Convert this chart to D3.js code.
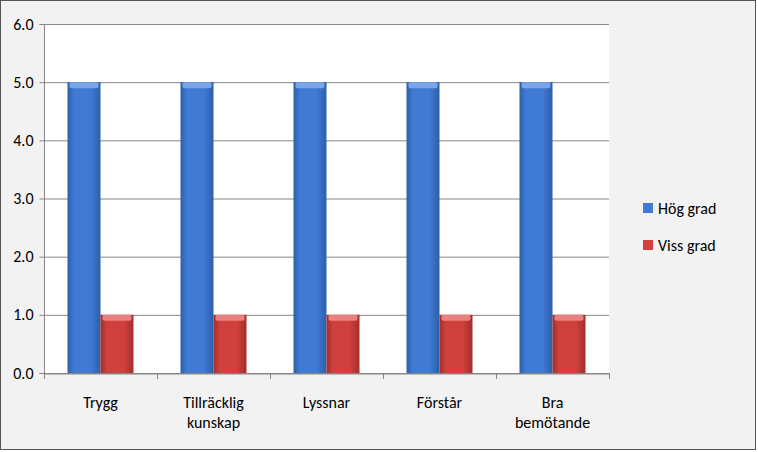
<!DOCTYPE html>
<html><head><meta charset="utf-8">
<script src="https://cdn.jsdelivr.net/npm/d3@7"></script>
<style>body{margin:0;background:#fff}</style>
</head><body>
<svg id="c" width="758" height="452"></svg>
<script>
var categories = [["Trygg"], ["Tillräcklig", "kunskap"], ["Lyssnar"], ["Förstår"], ["Bra", "bemötande"]];
var seriesNames = ["Hög grad", "Viss grad"];
var hogGrad = [5, 5, 5, 5, 5];
var vissGrad = [1, 1, 1, 1, 1];
var yTicks = [0, 1, 2, 3, 4, 5, 6];

var svg = d3.select("#c");
var defs = svg.append("defs");
function grad(id, light, mid, dark) {
	var g = defs.append("linearGradient").attr("id", id);
	g.append("stop").attr("offset", "0%").attr("stop-color", dark);
	g.append("stop").attr("offset", "20%").attr("stop-color", mid);
	g.append("stop").attr("offset", "70%").attr("stop-color", mid);
	g.append("stop").attr("offset", "100%").attr("stop-color", dark);
}
grad("gb", "#6f9be0", "#3f7bd4", "#2e5ea8");
grad("gr", "#e26b68", "#d0413e", "#a32e2b");
var fills = ["url(#gb)", "url(#gr)"];
var tops = ["#7aa6e8", "#e88280"];
var legendCol = ["#3f7bd4", "#d0413e"];

svg.append("rect").attr("x", 0.5).attr("y", 0.5).attr("width", 755).attr("height", 449)
	.attr("fill", "#f2f2f2").attr("stroke", "#555").attr("stroke-width", 1);

var x = d3.scaleBand().domain(d3.range(categories.length)).range([44, 609]);
var y = d3.scaleLinear().domain([0, 6]).range([373, 24]);

svg.append("rect").attr("x", 44).attr("y", 24).attr("width", 565).attr("height", 349).attr("fill", "#fff");

svg.selectAll(".grid").data(yTicks).enter().append("line")
	.attr("x1", 44).attr("x2", 609)
	.attr("y1", function(d) { return y(d) + 0.5; }).attr("y2", function(d) { return y(d) + 0.5; })
	.attr("stroke", "#868686");

var yAxis = svg.append("g").attr("transform", "translate(44.5,0)")
	.call(d3.axisLeft(y).tickValues(yTicks).tickSize(5).tickPadding(6));
var xAxis = svg.append("g").attr("transform", "translate(0,373.5)")
	.call(d3.axisBottom(x).tickValues([]).tickSizeOuter(0));
[yAxis, xAxis].forEach(function(a) {
	a.select(".domain").attr("stroke", "#868686");
	a.selectAll("line").attr("stroke", "#868686");
	a.selectAll("text").attr("font-family", "Calibri, Carlito, 'Liberation Sans', sans-serif").attr("font-size", 16).attr("fill", "#000");
});
yAxis.select(".domain").attr("d", "M-5,24.5H0V373.5H-5");
svg.selectAll(".xt").data(d3.range(categories.length + 1)).enter().append("line")
	.attr("x1", function(d) { return Math.round(44 + d * x.step()) + 0.5; })
	.attr("x2", function(d) { return Math.round(44 + d * x.step()) + 0.5; })
	.attr("y1", 373).attr("y2", 379).attr("stroke", "#868686");

var bw = 33;
[hogGrad, vissGrad].forEach(function(vals, s) {
	var g = svg.append("g");
	vals.forEach(function(v, i) {
		var bx = x(i) + x.bandwidth() / 2 - bw + s * bw;
		g.append("rect").attr("x", bx).attr("y", y(v)).attr("width", bw).attr("height", y(0) - y(v)).attr("fill", fills[s]);
		g.append("rect").attr("x", bx + 2).attr("y", y(v)).attr("width", bw - 4).attr("height", 6).attr("rx", 2).attr("fill", tops[s]);
	});
});

svg.selectAll(".cat").data(categories).enter().append("text")
	.attr("x", function(d, i) { return x(i) + x.bandwidth() / 2; })
	.attr("y", 408).attr("text-anchor", "middle")
	.attr("font-family", "Calibri, Carlito, 'Liberation Sans', sans-serif").attr("font-size", 16)
	.each(function(d) {
		var t = d3.select(this);
		d.forEach(function(line, k) { t.append("tspan").attr("x", t.attr("x")).attr("dy", k ? 20 : 0).text(line); });
	});

var lg = svg.selectAll(".lg").data(seriesNames).enter().append("g")
	.attr("transform", function(d, i) { return "translate(643," + (208 + i * 37) + ")"; });
lg.append("rect").attr("x", 0).attr("y", -5).attr("width", 10).attr("height", 10)
	.attr("fill", function(d, i) { return legendCol[i]; });
lg.append("text").attr("x", 15).attr("y", 5.5).text(function(d) { return d; })
	.attr("font-family", "Calibri, Carlito, 'Liberation Sans', sans-serif").attr("font-size", 16);
</script>
</body></html>
